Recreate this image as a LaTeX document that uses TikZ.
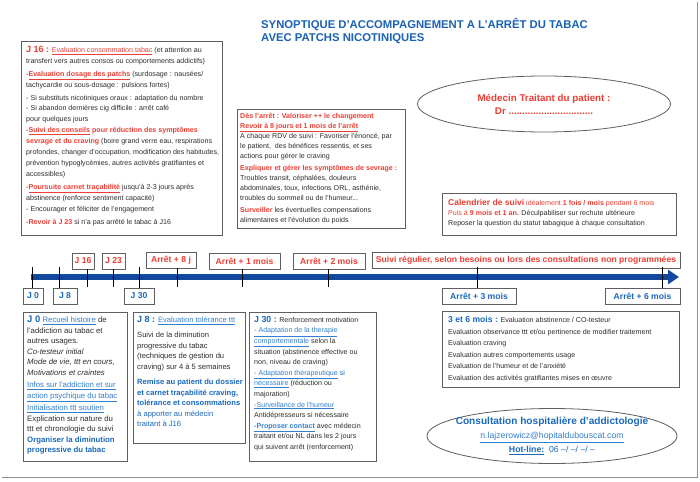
\documentclass[tikz,border=0pt]{standalone}
\usepackage{fontspec}
\setmainfont{Liberation Sans}
\usetikzlibrary{arrows.meta, positioning, calc, shapes.geometric}
\definecolor{titleblue}{RGB}{28, 98, 180}
\definecolor{alert}{RGB}{236, 62, 52}
\definecolor{medblue}{RGB}{26, 104, 188}
\definecolor{linkblue}{RGB}{52, 126, 206}
\definecolor{bodytext}{RGB}{45, 45, 45}
\definecolor{framegray}{RGB}{95, 95, 95}
\definecolor{barblue}{RGB}{18, 72, 158}
\newcommand{\txtrb}[1]{{\bfseries\color{alert}#1}}
\newcommand{\txtrl}[1]{{\color{alert}#1}}
\newcommand{\txtbb}[1]{{\bfseries\color{medblue}#1}}
\newcommand{\txtbl}[1]{{\color{medblue}#1}}
\newcommand{\txtlk}[1]{{\color{linkblue}\underline{#1}}}
\tikzset{
  panel/.style={
    draw=framegray, line width=0.9pt, fill=white,
    anchor=north west, inner sep=0pt
  },
  panel_text/.style={
    anchor=north west, align=left, inner sep=0pt,
    font=\fontsize{7.1}{10.9}\selectfont, text=bodytext
  },
  panel_big/.style={panel_text, font=\fontsize{7.8}{10.5}\selectfont},
  tag/.style={
    draw=framegray, line width=0.9pt, fill=white,
    minimum height=16pt, inner sep=1pt,
    font=\fontsize{8.6}{10}\selectfont\bfseries
  },
  tag_up/.style={tag, text=alert},
  tag_down/.style={tag, text=medblue},
  tick/.style={black, line width=0.9pt},
  timeline/.style={barblue, line width=6pt,
                   -{Triangle[length=11pt, width=14pt]}},
  oval/.style={ellipse, draw=framegray, line width=0.8pt, fill=white,
               inner sep=0pt},
  title/.style={anchor=north west, align=left, inner sep=0pt,
                font=\fontsize{11.3}{12.7}\selectfont\bfseries, text=titleblue},
}
\begin{document}
\begin{tikzpicture}[x=1pt, y=-1pt]

  \useasboundingbox (0,0) rectangle (700,481);
  \fill[white] (0,0) rectangle (700,481);
  \draw[framegray!70, line width=0.8pt] (697,2) -- (697,477) -- (2,477);

  % ============ TITLE ============
  \node[title] (title) at (261,18)
    {SYNOPTIQUE D'ACCOMPAGNEMENT A L'ARRÊT DU TABAC\\AVEC PATCHS NICOTINIQUES};

  % ============ UPPER PANELS ============
  \node[panel, minimum width=201pt, minimum height=194pt] (j16_panel) at (21,41) {};
  \node[panel_text, below right=5pt and 5pt of j16_panel.north west] (j16_text) {%
    {\fontsize{9}{10}\selectfont\txtrb{J 16 :}} \txtrl{\underline{Evaluation consommation tabac}} (et attention au\\
    transfert vers autres consos ou comportements addictifs)\\[2pt]
    \txtrb{-\underline{Evaluation dosage des patchs}} (surdosage : nausées/\\
    tachycardie ou sous-dosage : pulsions fortes)\\[2pt]
    - Si substituts nicotiniques oraux : adaptation du nombre\\
    - Si abandon dernières cig difficile : arrêt café\\
    pour quelques jours\\
    \txtrb{-\underline{Suivi des conseils} pour réduction des symptômes}\\
    \txtrb{sevrage et du craving} (boire grand verre eau, respirations\\
    profondes, changer d'occupation, modification des habitudes,\\
    prévention hypoglycémies, autres activités gratifiantes et\\
    accessibles)\\[2pt]
    \txtrb{-\underline{Poursuite carnet traçabilité}} jusqu'à 2-3 jours après\\
    abstinence (renforce sentiment capacité)\\
    - Encourager et féliciter de l'engagement\\[3pt]
    \txtrb{-Revoir à J 23} si n'a pas arrêté le tabac à J16};

  \node[panel, minimum width=168pt, minimum height=119pt] (arret_panel) at (237,109) {};
  \node[panel_text, font=\fontsize{7.1}{10}\selectfont,
        below right=4pt and 3pt of arret_panel.north west] (arret_text) {%
    \txtrb{Dès l'arrêt : Valoriser ++ le changement}\\
    \txtrb{\underline{Revoir à 8 jours et 1 mois de l'arrêt}}\\
    A chaque RDV de suivi : Favoriser l'énoncé, par\\
    le patient,\ \ des bénéfices ressentis, et ses\\
    actions pour gérer le craving\\[2pt]
    \txtrb{Expliquer et gérer les symptômes de sevrage :}\\
    Troubles transit, céphalées, douleurs\\
    abdominales, toux, infections ORL, asthénie,\\
    troubles du sommeil ou de l'humeur...\\[2pt]
    \txtrb{Surveiller} les éventuelles compensations\\
    alimentaires et l'évolution du poids};

  \node[oval, minimum width=253pt, minimum height=56pt] (medecin) at (544,104) {};
  \node[align=center, inner sep=0pt, text=alert,
        font=\fontsize{9.8}{13}\selectfont\bfseries] (medecin_text) at (medecin.center)
    {Médecin Traitant du patient :\\Dr ...............................};

  \node[panel, minimum width=234pt, minimum height=42pt] (calendrier_panel) at (442,193) {};
  \node[panel_text, font=\fontsize{7.1}{10}\selectfont,
        below right=6pt and 6pt of calendrier_panel.north west] (calendrier_text) {%
    {\fontsize{8.5}{10}\selectfont\txtrb{Calendrier de suivi}} \txtrl{idéalement} \txtrb{1 fois / mois} \txtrl{pendant 6 mois}\\
    \txtrl{Puis à} \txtrb{9 mois et 1 an.} Déculpabiliser sur rechute ultérieure\\
    Reposer la question du statut tabagique à chaque consultation};

  % ============ TIMELINE ============
  \coordinate (tl_start) at (31,277);
  \coordinate (tl_end) at (679,277);
  \draw[timeline] (tl_start) -- (tl_end);

  \node[tag_down, minimum width=20pt] (tg_j0)  at (33,296)    {J 0};
  \node[tag_down, minimum width=24pt] (tg_j8)  at (65,296)    {J 8};
  \node[tag_down, minimum width=30pt] (tg_j30) at (139,296)   {J 30};
  \node[tag_down, minimum width=74pt] (tg_m3)  at (479,296)   {Arrêt + 3 mois};
  \node[tag_down, minimum width=75pt] (tg_m6)  at (642.5,296) {Arrêt + 6 mois};
  \node[tag_up, minimum width=22pt]   (tg_j16) at (83,261)    {J 16};
  \node[tag_up, minimum width=23pt]   (tg_j23) at (113.5,261) {J 23};
  \node[tag_up, minimum width=50pt]   (tg_a8j) at (171,260)   {Arrêt + 8 j};
  \node[tag_up, minimum width=71pt]   (tg_a1m) at (244.5,261) {Arrêt + 1 mois};
  \node[tag_up, minimum width=72pt]   (tg_a2m) at (329,261)   {Arrêt + 2 mois};
  \node[tag_up, minimum width=308pt]  (tg_suivi) at (526,260)
    {Suivi régulier, selon besoins ou lors des consultations non programmées};

  % ticks across the bar
  \foreach \n/\x in {tg_j0/32, tg_j8/59, tg_j30/139, tg_m3/477, tg_m6/662} {
    \draw[tick] (\n.north -| \x,0) -- (\x,267);
  }
  \foreach \n/\x in {tg_j16/87, tg_j23/113, tg_a8j/177, tg_a1m/242, tg_a2m/328} {
    \draw[tick] (\n.south -| \x,0) -- (\x,287);
  }
  \draw[tick] (tg_suivi.south -| 477,0) -- (477,288);
  \draw[tick] (tg_suivi.south -| 662,0) -- (662,288);

  % ============ LOWER PANELS ============
  \node[panel, minimum width=104pt, minimum height=149pt] (j0_panel) at (23,312) {};
  \node[panel_big, below right=4pt and 4pt of j0_panel.north west] (j0_text) {%
    {\fontsize{9.5}{10}\selectfont\txtbb{J 0}} \txtlk{Recueil histoire} de\\
    l'addiction au tabac et\\
    autres usages.\\
    \textit{Co-testeur initial}\\
    \textit{Mode de vie, ttt en cours,}\\
    \textit{Motivations et craintes}\\[2pt]
    \txtlk{Infos sur l'addiction et sur}\\
    \txtlk{action psychique du tabac}\\[2pt]
    \txtlk{Initialisation ttt soutien}\\
    Explication sur nature du\\
    ttt et chronologie du suivi\\
    \txtbb{Organiser la diminution}\\
    \txtbb{progressive du tabac}};

  \node[panel, minimum width=112pt, minimum height=131pt] (j8_panel) at (133,312) {};
  \node[panel_big, font=\fontsize{7.6}{10.5}\selectfont,
        below right=4pt and 4pt of j8_panel.north west] (j8_text) {%
    {\fontsize{9}{10}\selectfont\txtbb{J 8 :}} \txtlk{Evaluation tolérance ttt}\\[5pt]
    Suivi de la diminution\\
    progressive du tabac\\
    (techniques de gestion du\\
    craving) sur 4 à 5 semaines\\[5pt]
    \txtbb{Remise au patient du dossier}\\
    \txtbb{et carnet traçabilité craving,}\\
    \txtbb{tolérance et consommations}\\
    \txtbl{à apporter au médecin}\\
    \txtbl{traitant à J16}};

  \node[panel, minimum width=127pt, minimum height=149pt] (j30_panel) at (249,312) {};
  \node[panel_text, font=\fontsize{7.1}{10.6}\selectfont,
        below right=4pt and 5pt of j30_panel.north west] (j30_text) {%
    {\fontsize{8.8}{10}\selectfont\txtbb{J 30 :}} Renforcement motivation\\
    \txtlk{- Adaptation de la therapie}\\
    \txtlk{comportementale} selon la\\
    situation (abstinence effective ou\\
    non, niveau de craving)\\
    \txtlk{- Adaptation thérapeutique} \txtbl{si}\\
    \txtlk{nécessaire} (réduction ou\\
    majoration)\\
    \txtlk{-Surveillance de l'humeur}\\
    Antidépresseurs si nécessaire\\
    {\bfseries\txtlk{-Proposer contact}} avec médecin\\
    traitant et/ou NL dans les 2 jours\\
    qui suivent arrêt (renforcement)};

  \node[panel, minimum width=237pt, minimum height=76pt] (suivi_panel) at (442,311) {};
  \node[panel_text, font=\fontsize{7.1}{11.6}\selectfont,
        below right=5pt and 6pt of suivi_panel.north west] (suivi_text) {%
    {\fontsize{8.6}{10}\selectfont\txtbb{3 et 6 mois :}} Evaluation abstinence / CO-testeur\\
    Evaluation observance ttt et/ou pertinence de modifier traitement\\
    Evaluation craving\\
    Evaluation autres comportements usage\\
    Evaluation de l'humeur et de l'anxiété\\
    Evaluation des activités gratifiantes mises en œuvre};

  \node[oval, minimum width=250pt, minimum height=55pt] (consult) at (552,436) {};
  \node[align=center, inner sep=0pt, text=medblue,
        font=\fontsize{8.7}{14}\selectfont] (consult_text) at (consult.center) {%
    {\fontsize{10.1}{12}\selectfont\bfseries Consultation hospitalière d'addictologie}\\
    \txtlk{n.lajzerowicz@hopitaldubouscat.com}\\
    {\bfseries\underline{Hot-line:}}\ \ 06 --/ --/ --/ --};

\end{tikzpicture}
\end{document}
